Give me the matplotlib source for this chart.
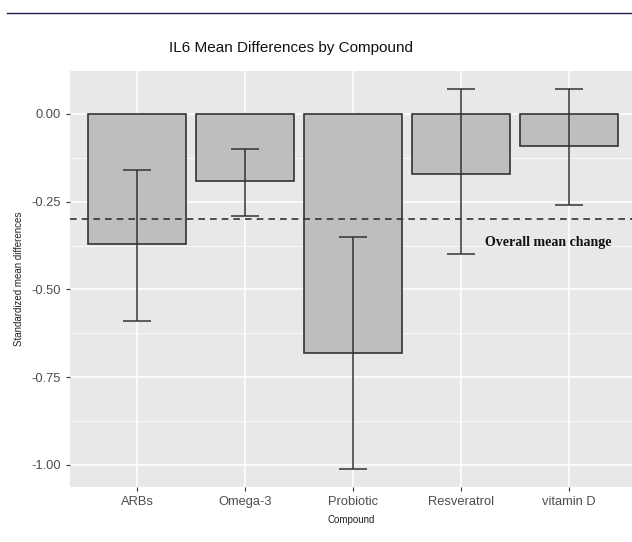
import numpy as np
import matplotlib.pyplot as plt
from matplotlib.ticker import MultipleLocator

plt.rcParams["font.family"] = ["Liberation Sans", "DejaVu Sans"]

# Data
compounds = ["ARBs", "Omega-3", "Probiotic", "Resveratrol", "vitamin D"]
mean_diff = [-0.37, -0.19, -0.68, -0.17, -0.09]
ci_upper = [-0.16, -0.10, -0.35, 0.07, 0.07]
ci_lower = [-0.59, -0.29, -1.01, -0.40, -0.26]
overall_mean = -0.30

fig = plt.figure(figsize=(6.32, 5.42), dpi=100)
ax = fig.add_axes([70 / 632, 1 - 487 / 542, 562 / 632, 416 / 542])

x = np.arange(1, len(compounds) + 1)

# ggplot-like panel
ax.set_facecolor("#E8E8E8")
for s in ax.spines.values():
    s.set_visible(False)
ax.yaxis.set_major_locator(MultipleLocator(0.25))
ax.yaxis.set_minor_locator(MultipleLocator(0.125))
ax.grid(which="major", color="white", linewidth=1.1)
ax.grid(which="minor", axis="y", color="white", linewidth=0.5)
ax.set_axisbelow(True)

ax.bar(x, mean_diff, width=0.9, color="#BEBEBE", edgecolor="#333333", linewidth=1.2)

yerr = [np.array(mean_diff) - np.array(ci_lower), np.array(ci_upper) - np.array(mean_diff)]
ax.errorbar(x, mean_diff, yerr=yerr, fmt="none", ecolor="#333333",
            elinewidth=1.1, capsize=10, capthick=1.1)

ax.axhline(overall_mean, color="#333333", linestyle=(0, (4, 3)), linewidth=1.2)
ax.text(4.81, -0.366, "Overall mean change", family="Liberation Serif",
        fontweight="bold", fontsize=10, ha="center", va="center", color="#111111")

ax.set_xlim(0.38, 5.583)
ax.set_ylim(-1.0627, 0.1225)
ax.set_xticks(x)
ax.set_xticklabels(compounds)
ax.set_yticks([0.0, -0.25, -0.5, -0.75, -1.0])
ax.set_yticklabels(["0.00", "-0.25", "-0.50", "-0.75", "-1.00"])
ax.tick_params(which="major", colors="#333333", labelcolor="#4D4D4D",
               labelsize=9.3, length=3, width=0.8)
ax.tick_params(which="minor", length=0)

ax.set_xlabel("Compound", fontsize=7, color="#222222", labelpad=5)
ax.set_ylabel("Standardized mean differences", fontsize=7, color="#222222", labelpad=5)

fig.text(291 / 632, 1 - 48 / 542, "IL6 Mean Differences by Compound",
         ha="center", va="center", fontsize=11, color="#111111")

# rule at the top of the page
fig.add_artist(plt.Line2D([7 / 632, 1], [1 - 13 / 542, 1 - 13 / 542],
                          color="#1F1F4F", linewidth=1.0))

fig.savefig("out.png", dpi=100)
